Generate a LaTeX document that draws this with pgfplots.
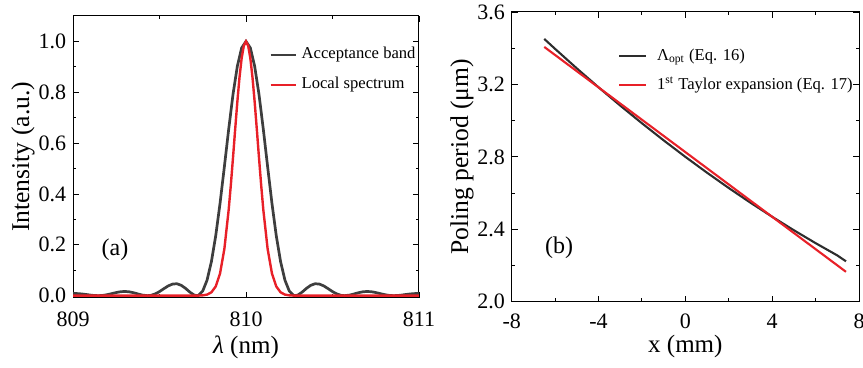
\documentclass[border=0pt]{standalone}
\usepackage{pgfplots}
\pgfplotsset{compat=1.18}
\usepackage{fontspec}
\setmainfont{Liberation Serif}
\definecolor{accgray}{RGB}{62,62,62}
\definecolor{specred}{RGB}{232,32,40}
\definecolor{optblack}{RGB}{45,45,45}
\pgfplotsset{
  common/.style={
    scale only axis,
    tick align=inside,
    major tick length=3pt,
    minor tick length=1.7pt,
    every tick/.style={black, line width=0.45pt},
    axis line style={line width=0.5pt},
    ticklabel style={font=\fontsize{11}{13}\selectfont, inner sep=1pt},
    legend cell align=left,
    legend style={draw=none, fill=none, font=\fontsize{8.3}{10}\selectfont,
      row sep=7pt, column sep=2.4pt, inner sep=0pt, outer sep=0pt,
      nodes={inner sep=0pt, text height=6pt, text depth=2pt}},
    legend image code/.code={\draw[##1] (0pt,0pt) -- (12.5pt,0pt);},
  },
  longimg/.style={legend image code/.code={\draw[##1] (0pt,0pt) -- (13.5pt,0pt);}},
}
\begin{document}
\begin{tikzpicture}
\useasboundingbox (0,0) rectangle (431.5pt,184pt);
% ---------------- panel (a)
\begin{axis}[common,
  at={(36.5pt,35.15pt)}, anchor=south west,
  width=173pt, height=140.85pt,
  xmin=809, xmax=811, ymin=-0.008, ymax=1.1,
  xtick={809,810,811}, xticklabels={809,810,811},
  xticklabel style={yshift=-6pt},
  minor x tick num=1,
  ytick={0,0.2,0.4,0.6,0.8,1.0}, yticklabels={0.0,0.2,0.4,0.6,0.8,1.0},
  yticklabel style={xshift=-2.2pt},
  minor y tick num=1,
  xlabel={\textit{λ} (nm)},
  ylabel={Intensity (a.u.)},
  xlabel style={at={([yshift=-24.7pt]axis description cs:0.5,0)}, anchor=center, inner sep=1pt, font=\fontsize{12.5}{14}\selectfont},
  ylabel style={at={([xshift=-25pt]axis description cs:0,0.5)}, anchor=center, inner sep=1pt, font=\fontsize{12.8}{14}\selectfont},
  legend style={at={(axis description cs:0.567,0.89)}, anchor=north west},
]
\addplot[accgray, line width=1.35pt] coordinates {
(809.000,0.0082)(809.025,0.0081)(809.050,0.0068)(809.075,0.0047)(809.100,0.0023)
(809.125,0.0005)(809.150,0.0000)(809.175,0.0013)(809.200,0.0042)(809.225,0.0082)
(809.250,0.0123)(809.275,0.0154)(809.300,0.0165)(809.325,0.0151)(809.350,0.0116)
(809.375,0.0068)(809.400,0.0024)(809.430,0.0000)(809.450,0.0013)(809.475,0.0068)
(809.500,0.0160)(809.525,0.0274)(809.550,0.0382)(809.575,0.0455)(809.600,0.0469)
(809.625,0.0410)(809.650,0.0290)(809.675,0.0142)(809.700,0.0025)(809.715,0.0000)
(809.725,0.0013)(809.750,0.0186)(809.775,0.0613)(809.800,0.1336)(809.825,0.2356)
(809.850,0.3633)(809.875,0.5073)(809.900,0.6550)(809.925,0.7920)(809.950,0.9027)
(809.975,0.9749)(810.000,1.0000)
(810.025,0.9749)(810.050,0.9027)(810.075,0.7920)(810.100,0.6550)(810.125,0.5073)
(810.150,0.3633)(810.175,0.2356)(810.200,0.1336)(810.225,0.0613)(810.250,0.0186)
(810.275,0.0013)(810.285,0.0000)(810.300,0.0025)(810.325,0.0142)(810.350,0.0290)
(810.375,0.0410)(810.400,0.0469)(810.425,0.0455)(810.450,0.0382)(810.475,0.0274)
(810.500,0.0160)(810.525,0.0068)(810.550,0.0013)(810.570,0.0000)(810.600,0.0024)
(810.625,0.0068)(810.650,0.0116)(810.675,0.0151)(810.700,0.0165)(810.725,0.0154)
(810.750,0.0123)(810.775,0.0082)(810.800,0.0042)(810.825,0.0013)(810.850,0.0000)
(810.875,0.0005)(810.900,0.0023)(810.925,0.0047)(810.950,0.0068)(810.975,0.0081)
(811.000,0.0082)
};
\addlegendentry{Acceptance band}
\addplot[specred, line width=1.2pt] coordinates {
(809.000,0)(809.700,0)(809.725,0.0003)(809.750,0.0012)(809.775,0.0042)(809.800,0.0131)
(809.825,0.0363)(809.850,0.0874)(809.875,0.1841)(809.900,0.3386)(809.9125,0.4364)
(809.925,0.5438)(809.9375,0.6550)(809.950,0.7628)(809.9625,0.8587)(809.975,0.9345)
(809.9875,0.9832)(810.000,1.0000)
(810.0125,0.9832)(810.025,0.9345)(810.0375,0.8587)(810.050,0.7628)(810.0625,0.6550)
(810.075,0.5438)(810.0875,0.4364)(810.100,0.3386)(810.125,0.1841)(810.150,0.0874)
(810.175,0.0363)(810.200,0.0131)(810.225,0.0042)(810.250,0.0012)(810.275,0.0003)
(810.300,0)(811.000,0)
};
\addlegendentry{Local spectrum}
\node[font=\fontsize{12}{14}\selectfont] at (axis cs:809.243,0.18) {(a)};
\end{axis}
% ---------------- panel (b)
\begin{axis}[common, longimg,
  at={(255.85pt,33.15pt)}, anchor=south west,
  width=173.65pt, height=144.85pt,
  xmin=-8, xmax=8, ymin=2.0, ymax=3.6,
  xtick={-8,-4,0,4,8}, xticklabels={-8,-4,0,4,8},
  xticklabel style={yshift=-5pt},
  minor x tick num=1,
  ytick={2.0,2.4,2.8,3.2,3.6}, yticklabels={2.0,2.4,2.8,3.2,3.6},
  yticklabel style={xshift=-2.2pt},
  minor y tick num=1,
  xlabel={x (mm)},
  ylabel={Poling period (μm)},
  xlabel style={at={([yshift=-22.3pt]axis description cs:0.5,0)}, anchor=center, inner sep=1pt, font=\fontsize{12.5}{14}\selectfont},
  ylabel style={at={([xshift=-24.85pt]axis description cs:0,0.5)}, anchor=center, inner sep=1pt, font=\fontsize{12.8}{14}\selectfont},
  legend style={at={(axis description cs:0.306,0.875)}, anchor=north west, column sep=5pt, row sep=6.5pt},
]
\addplot[optblack, line width=1.05pt] coordinates {
(-6.5,3.4512)(-6,3.3962)(-5,3.2885)(-4,3.1841)(-3,3.0831)(-2,2.9854)(-1,2.8911)
(0,2.8000)(1,2.7123)(2,2.6278)(3,2.5467)(4,2.4690)(5,2.3945)(6,2.3234)(7,2.2555)(7.4,2.2230)
};
\addlegendentry{Λ\textsubscript{opt} (Eq. 16)}
\addplot[specred, line width=1.05pt] coordinates {
(-6.5,3.407)(7.4,2.165)
};
\addlegendentry{1\textsuperscript{st} Taylor expansion (Eq. 17)}
\node[font=\fontsize{12}{14}\selectfont] at (axis cs:-5.82,2.297) {(b)};
\end{axis}
\end{tikzpicture}
\end{document}
